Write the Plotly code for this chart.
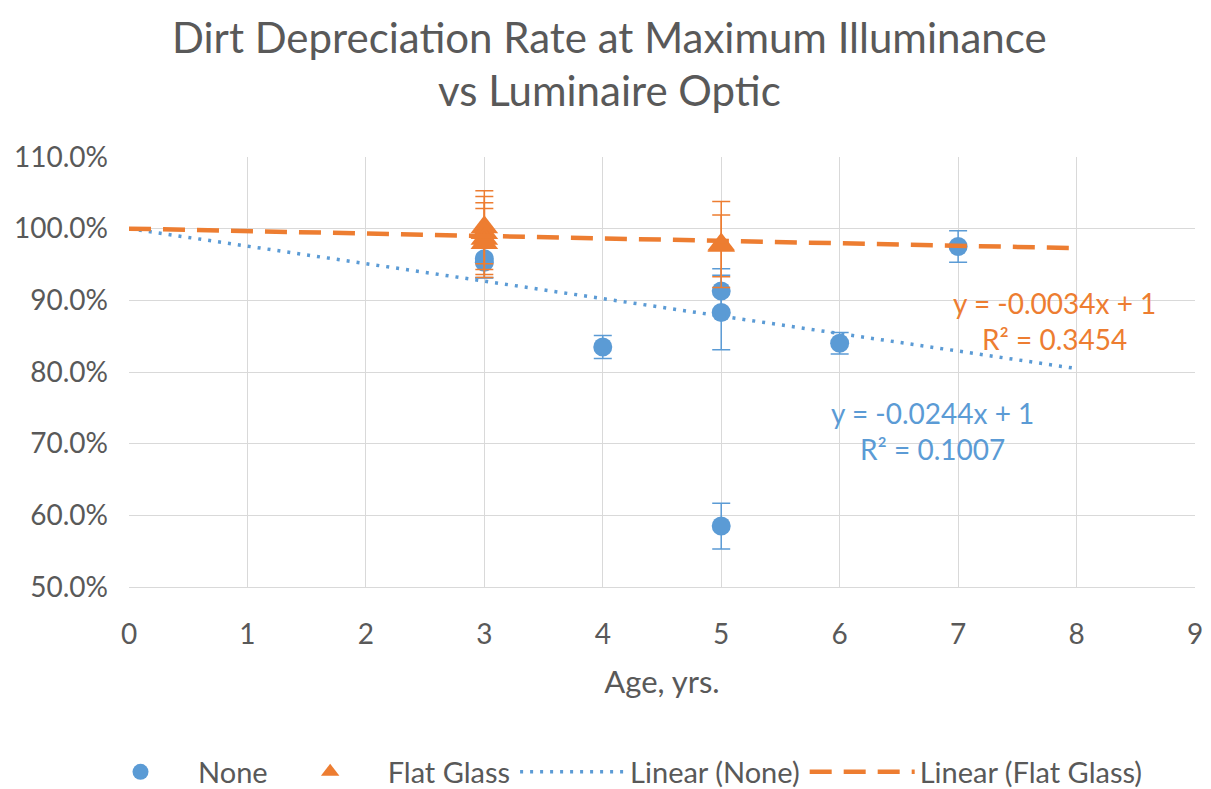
import plotly.graph_objects as go

BLUE = "#5B9BD5"
ORANGE = "#ED7D31"
GRAY = "#595959"

none_x = [3, 3, 4, 5, 5, 5, 6, 7]
none_y = [0.953, 0.958, 0.835, 0.913, 0.883, 0.585, 0.840, 0.975]
none_err = [0.022, 0.026, 0.016, 0.031, 0.052, 0.032, 0.015, 0.022]

flat_x = [3, 3, 3, 3, 5, 5]
flat_y = [1.002, 0.994, 0.986, 0.980, 0.978, 0.976]
flat_err = [0.051, 0.051, 0.050, 0.048, 0.060, 0.043]

trend_x = [0, 8]
none_slope, none_icpt = -0.0244, 1.0
flat_slope, flat_icpt = -0.0034, 1.0

title_lines = ["Dirt Depreciation Rate at Maximum Illuminance", "vs Luminaire Optic"]

font_family = "Lato, Open Sans, sans-serif"

fig = go.Figure()
fig.add_trace(go.Scatter(
    x=none_x, y=none_y, mode="markers", name="None",
    marker=dict(symbol="circle", size=19, color=BLUE),
    error_y=dict(type="data", array=none_err, color=BLUE, thickness=1.5, width=9),
))
fig.add_trace(go.Scatter(
    x=flat_x, y=flat_y, mode="markers", name="Flat Glass",
    marker=dict(symbol="triangle-up", size=24, color=ORANGE),
    error_y=dict(type="data", array=flat_err, color=ORANGE, thickness=1.5, width=9),
))
fig.add_trace(go.Scatter(
    x=trend_x, y=[none_icpt + none_slope * x for x in trend_x], mode="lines",
    name="Linear (None)", line=dict(color=BLUE, width=3.5, dash="3px,7px"),
))
fig.add_trace(go.Scatter(
    x=trend_x, y=[flat_icpt + flat_slope * x for x in trend_x], mode="lines",
    name="Linear (Flat Glass)", line=dict(color=ORANGE, width=4.5, dash="22px,12px"),
))

fig.add_annotation(x=7.81, y=0.871, xref="x", yref="y", text="y = -0.0034x + 1<br>R² = 0.3454",
                   showarrow=False, font=dict(size=28, color=ORANGE, family=font_family), align="center")
fig.add_annotation(x=6.78, y=0.7177, xref="x", yref="y", text="y = -0.0244x + 1<br>R² = 0.1007",
                   showarrow=False, font=dict(size=28, color=BLUE, family=font_family), align="center")

# title as two lines (paper coords relative to plot area 149..579 in figure px)
for txt, fy in zip(title_lines, [29, 82]):
    fig.add_annotation(x=(601.5 - 121) / 1066, y=(579 - fy) / 430, xref="paper", yref="paper",
                       xanchor="center", yanchor="middle",
                       text=txt, showarrow=False, font=dict(size=42, color=GRAY, family=font_family))

fig.update_layout(
    width=1203, height=781,
    paper_bgcolor="white", plot_bgcolor="white",
    font=dict(family=font_family, color=GRAY, size=28),
    margin=dict(l=121, r=16, t=149, b=202, autoexpand=False),
    xaxis=dict(range=[0, 9], dtick=1, tick0=0, showgrid=True, gridcolor="#D9D9D9", gridwidth=1,
               zeroline=False, showline=True, linecolor="#D9D9D9", ticks="", automargin=False,
               ticklabelstandoff=22,
               title=dict(text="Age, yrs.", font=dict(size=31, color=GRAY), standoff=22),
               tickfont=dict(size=28, color=GRAY)),
    yaxis=dict(range=[0.5, 1.1], dtick=0.1, tick0=0.5, tickformat=".1%", showgrid=True,
               gridcolor="#D9D9D9", gridwidth=1, zeroline=False, showline=False, ticks="",
               automargin=False, ticklabelstandoff=20,
               tickfont=dict(size=28, color=GRAY)),
    legend=dict(orientation="h", xref="container", yref="container", x=0.505, xanchor="center",
                y=17 / 781, yanchor="middle",
                font=dict(size=29, color=GRAY), itemwidth=105, tracegroupgap=0),
    showlegend=True,
)

fig.write_html("out.html")
